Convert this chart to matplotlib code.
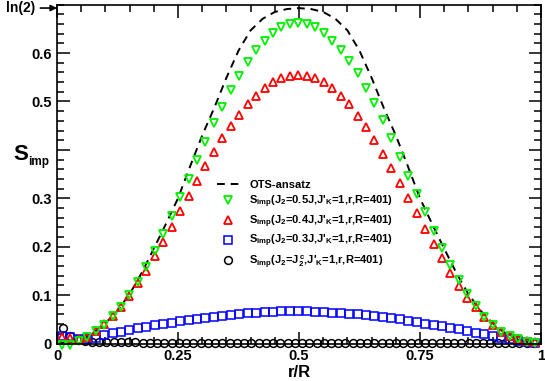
import matplotlib
matplotlib.use("Agg")
import matplotlib.pyplot as plt
from matplotlib.ticker import FixedLocator, MultipleLocator

plt.rcParams['font.family'] = ['Liberation Sans', 'DejaVu Sans']
plt.rcParams['font.weight'] = 'bold'
plt.rcParams['mathtext.fontset'] = 'custom'
plt.rcParams['mathtext.rm'] = 'Liberation Sans:bold'
plt.rcParams['mathtext.bf'] = 'Liberation Sans:bold'
plt.rcParams['mathtext.it'] = 'Liberation Sans:bold'
plt.rcParams['mathtext.default'] = 'bf'

R = 401
# site positions
r_tri = [4, 11, 18, 25, 32, 39, 46, 53, 60, 67, 74, 81, 88, 95, 102, 109, 116, 123, 130,
         137, 144, 151, 158, 165, 172, 179, 186, 193, 200, 207, 214, 221, 228, 235, 242,
         249, 256, 263, 270, 277, 284, 291, 298, 305, 312, 319, 326, 333, 340, 347, 354,
         361, 368, 375, 382, 389, 396]
r_circ = [5, 11, 17, 23, 29, 35, 41, 47, 53, 59, 65, 71, 77, 83, 89, 95, 101, 107, 113,
          119, 125, 131, 137, 143, 149, 155, 161, 167, 173, 179, 185, 191, 197, 203, 209,
          215, 221, 227, 233, 239, 245, 251, 257, 263, 269, 275, 281, 287, 293, 299, 305,
          311, 317, 323, 329, 335, 341, 347, 353, 359, 365, 371, 377, 383, 389, 395]

s_j05 = [-0.003, -0.003, 0.005, 0.013, 0.025, 0.039, 0.056, 0.076, 0.100, 0.128, 0.159,
         0.192, 0.226, 0.263, 0.302, 0.340, 0.379, 0.417, 0.455, 0.489, 0.524, 0.553,
         0.582, 0.606, 0.626, 0.642, 0.653, 0.660, 0.663,
         0.660, 0.653, 0.642, 0.626, 0.606, 0.584, 0.558, 0.528, 0.496, 0.462, 0.424,
         0.386, 0.347, 0.309, 0.271, 0.233, 0.197, 0.162, 0.131, 0.102, 0.077, 0.055,
         0.038, 0.024, 0.015, 0.009, 0.004, 0.002]
s_j04 = [0.014, 0.011, 0.009, 0.014, 0.026, 0.040, 0.057, 0.076, 0.098, 0.124, 0.150,
         0.181, 0.210, 0.241, 0.274, 0.305, 0.336, 0.367, 0.395, 0.424, 0.449, 0.473,
         0.494, 0.512, 0.527, 0.540, 0.548, 0.553, 0.555,
         0.553, 0.548, 0.540, 0.527, 0.512, 0.494, 0.471, 0.447, 0.420, 0.392, 0.362,
         0.332, 0.300, 0.269, 0.237, 0.206, 0.176, 0.146, 0.119, 0.095, 0.075, 0.055,
         0.038, 0.024, 0.016, 0.009, 0.005, 0.003]
s_j03 = [0.016, 0.013, 0.010, 0.009, 0.012, 0.017, 0.021, 0.024, 0.028, 0.031, 0.035,
         0.038, 0.040, 0.043, 0.046, 0.048, 0.051, 0.053, 0.055, 0.057, 0.059, 0.061,
         0.063, 0.064, 0.065, 0.066, 0.067, 0.067, 0.067,
         0.067, 0.066, 0.065, 0.064, 0.063, 0.061, 0.060, 0.058, 0.056, 0.054, 0.052,
         0.050, 0.047, 0.044, 0.041, 0.039, 0.036, 0.033, 0.029, 0.026, 0.022, 0.019,
         0.016, 0.012, 0.009, 0.006, 0.004, 0.002]
s_jc = [0.031, 0.016, 0.009, 0.006, 0.004, 0.004, 0.003, 0.003, 0.003, 0.003, 0.003,
        0.002, 0.002, 0.002, 0.002, 0.002, 0.002, 0.002, 0.001, 0.001, 0.001, 0.001,
        0.001, 0.001, 0.001, 0.001, 0.001, 0.001, 0.001, 0.001, 0.001, 0.001, 0.001,
        0.001, 0.001, 0.001, 0.001, 0.001, 0.001, 0.001, 0.001, 0.001, 0.001, 0.001,
        0.001, 0.001, 0.001, 0.001, 0.001, 0.001, 0.001, 0.001, 0.001, 0.001, 0.001,
        0.001, 0.002, 0.002, 0.002, 0.002, 0.002, 0.002, 0.002, 0.002, 0.002, 0.002]

x_ots = [0.0, 0.025, 0.05, 0.075, 0.1, 0.125, 0.15, 0.175, 0.2, 0.225, 0.25, 0.275, 0.3,
         0.325, 0.35, 0.375, 0.4, 0.425, 0.45, 0.475, 0.5, 0.525, 0.55, 0.575, 0.6,
         0.625, 0.65, 0.675, 0.7, 0.725, 0.75, 0.775, 0.8, 0.825, 0.85, 0.875, 0.9,
         0.925, 0.95, 0.975, 1.0]
s_ots = [0.000, 0.002, 0.009, 0.022, 0.042, 0.068, 0.102, 0.146, 0.196, 0.247, 0.300,
         0.366, 0.430, 0.487, 0.549, 0.605, 0.647, 0.671, 0.685, 0.691, 0.693,
         0.691, 0.685, 0.671, 0.647, 0.605, 0.549, 0.487, 0.430, 0.366, 0.300,
         0.247, 0.196, 0.146, 0.102, 0.068, 0.042, 0.022, 0.009, 0.002, 0.000]

x_ticks = [0, 0.25, 0.5, 0.75, 1]
x_ticklabels = ["0", "0.25", "0.5", "0.75", "1"]
y_ticks = [0, 0.1, 0.2, 0.3, 0.4, 0.5, 0.6]
y_ticklabels = ["0", "0.1", "0.2", "0.3", "", "0.5", "0.6"]

labels = ["OTS-ansatz",
          r"S$_{imp}$(J$_2$=0.5J,J'$_K$=1,r,R=401)",
          r"S$_{imp}$(J$_2$=0.4J,J'$_K$=1,r,R=401)",
          r"S$_{imp}$(J$_2$=0.3J,J'$_K$=1,r,R=401)",
          r"S$_{imp}$(J$_2$=J$_2^{\,c}$,J'$_K$=1,r,R=401)"]

fig = plt.figure(figsize=(5.45, 3.81), dpi=100)
ax = fig.add_axes([57/545, 1 - 343.5/381, 484/545, (343.5 - 4.7)/381])

xt = [r / R for r in r_tri]
xc = [r / R for r in r_circ]

h_ots, = ax.plot(x_ots, s_ots, color='black', lw=1.4, ls=(0, (4, 3)), label=labels[0])
h_c, = ax.plot(xc, s_jc, ls='none', marker='o', ms=5.6, mfc='none', mec='black', mew=1.1,
               clip_on=False, label=labels[4])
h_b, = ax.plot(xt, s_j03, ls='none', marker='s', ms=5.2, mfc='none', mec='#0000ff', mew=1.1,
               clip_on=False, label=labels[3])
h_r, = ax.plot(xt, s_j04, ls='none', marker='^', ms=6.2, mfc='none', mec='#ff0000', mew=1.3,
               clip_on=False, label=labels[2])
h_g, = ax.plot(xt, s_j05, ls='none', marker='v', ms=6.2, mfc='none', mec='#00f000', mew=1.3,
               clip_on=False, label=labels[1])

ax.set_xlim(0, 1)
ax.set_ylim(0, 0.7)
ax.xaxis.set_major_locator(FixedLocator(x_ticks))
ax.set_xticklabels(x_ticklabels)
ax.xaxis.set_minor_locator(MultipleLocator(0.05))
ax.yaxis.set_major_locator(FixedLocator(y_ticks))
ax.set_yticklabels(y_ticklabels)
ax.yaxis.set_minor_locator(MultipleLocator(0.02))
ax.tick_params(which='both', direction='in', top=True, right=True, width=1.1)
ax.tick_params(which='major', length=9, labelsize=10.5, pad=4)
ax.tick_params(which='minor', length=5)
for s in ax.spines.values():
    s.set_linewidth(1.2)
for t in ax.get_xticklabels() + ax.get_yticklabels():
    t.set_fontweight('bold')

ax.set_xlabel("r/R", fontsize=12, fontweight='bold', va='center')
ax.xaxis.set_label_coords(0.5, -0.086)

# y label "S_imp" drawn horizontally, with a small subscript
fig.text(13/545, 1 - 160/381, "S", fontsize=16, fontweight='bold',
         ha='left', va='baseline')
fig.text(28/545, 1 - 165/381, "imp", fontsize=8.5, fontweight='bold',
         ha='left', va='baseline')

ax.annotate("ln(2)", xy=(0, 0.6931), xycoords='data', xytext=(-16, 0),
            textcoords='offset points', ha='right', va='center', fontsize=10,
            fontweight='bold', annotation_clip=False,
            arrowprops=dict(arrowstyle='-|>', color='black', lw=1.2,
                            mutation_scale=9, shrinkA=2, shrinkB=0))

leg = ax.legend(handles=[h_ots, h_g, h_r, h_b, h_c], labels=labels,
                loc='upper left', bbox_to_anchor=(0.315, 0.505), frameon=False,
                fontsize=8, handlelength=2.0, handletextpad=0.9,
                labelspacing=0.3, borderpad=0.2)
for t in leg.get_texts():
    t.set_fontweight('bold')

fig.savefig("out.png", dpi=100)
